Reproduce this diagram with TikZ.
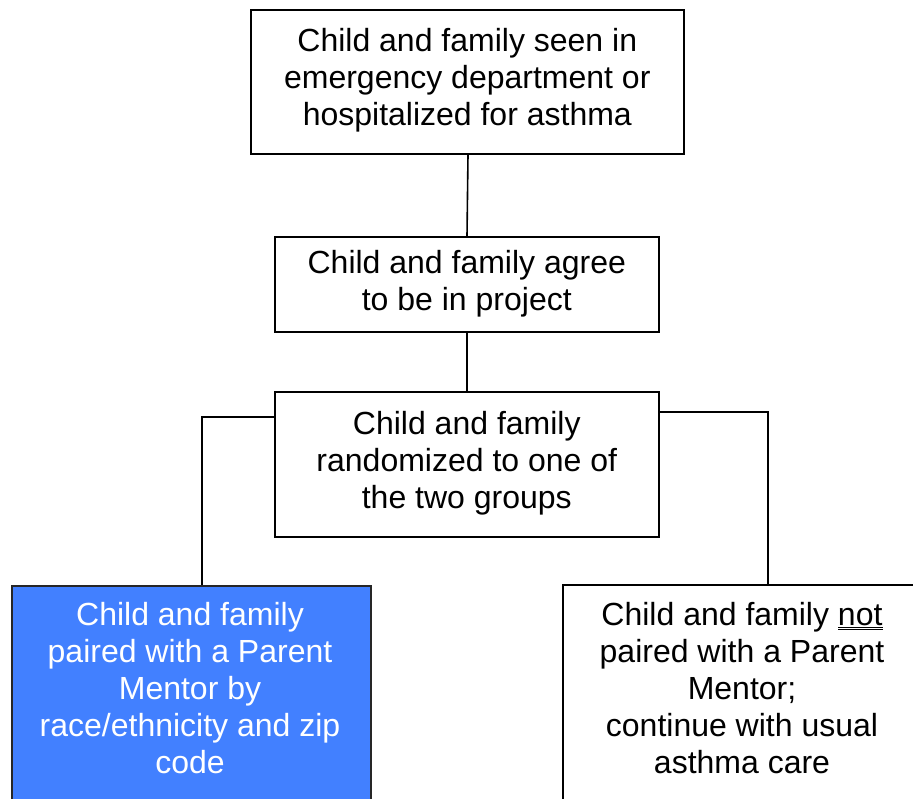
\documentclass[tikz,border=0pt]{standalone}
\usepackage{fontspec}
\setmainfont{Liberation Sans}
\definecolor{mentorblue}{RGB}{66,128,255}
\begin{document}
\begin{tikzpicture}[x=1pt,y=1pt,
  box/.style={draw=black, line width=1.6pt, inner sep=0pt, anchor=north west},
  txt/.style={align=center, font=\fontsize{32}{37}\selectfont, inner sep=0pt},
  conn/.style={draw=black, line width=1.6pt}]
\useasboundingbox (0,0) rectangle (913,-798);
\begin{scope}
\clip (0,0) rectangle (913,-798);
% boxes
\node[box, minimum width=433pt, minimum height=144pt] (b1) at (250,-9) {};
\node[box, minimum width=384pt, minimum height=95pt] (b2) at (274,-236) {};
\node[box, minimum width=384pt, minimum height=145pt] (b3) at (274,-391) {};
\node[box, fill=mentorblue, draw=black!85, minimum width=359pt, minimum height=240pt] (b4) at (11,-585) {};
\node[box, minimum width=370pt, minimum height=240pt] (b5) at (562,-584) {};
% texts
\node[txt] (t1) at ([yshift=2pt]b1.center) {Child and family seen in\\emergency department or\\hospitalized for asthma};
\node[txt] (t2) at ([yshift=1pt]b2.center) {Child and family agree\\to be in project};
\node[txt] (t3) at ([yshift=1pt]b3.center) {Child and family\\randomized to one of\\the two groups};
\node[txt, text=white, anchor=north] (t4) at (190,-602) {Child and family\\paired with a Parent\\Mentor by\\race/ethnicity and zip\\code};
\node[txt, anchor=north] (t5) at (742,-602) {Child and family $\underline{\underline{\mbox{not}}}$\\paired with a Parent\\Mentor;\\continue with usual\\asthma care};
% connectors
\coordinate (lc) at (202,-417);
\coordinate (rc) at (768,-412);
\draw[conn] (b1.south -| 468,0) -- (b2.north -| 467,0);
\draw[conn] (b2.south -| 467,0) -- (b3.north -| 467,0);
\draw[conn] (b3.west |- lc) -- (lc) -- (b4.north -| lc);
\draw[conn] (b3.east |- rc) -- (rc) -- (b5.north -| rc);
\end{scope}
\end{tikzpicture}
\end{document}
